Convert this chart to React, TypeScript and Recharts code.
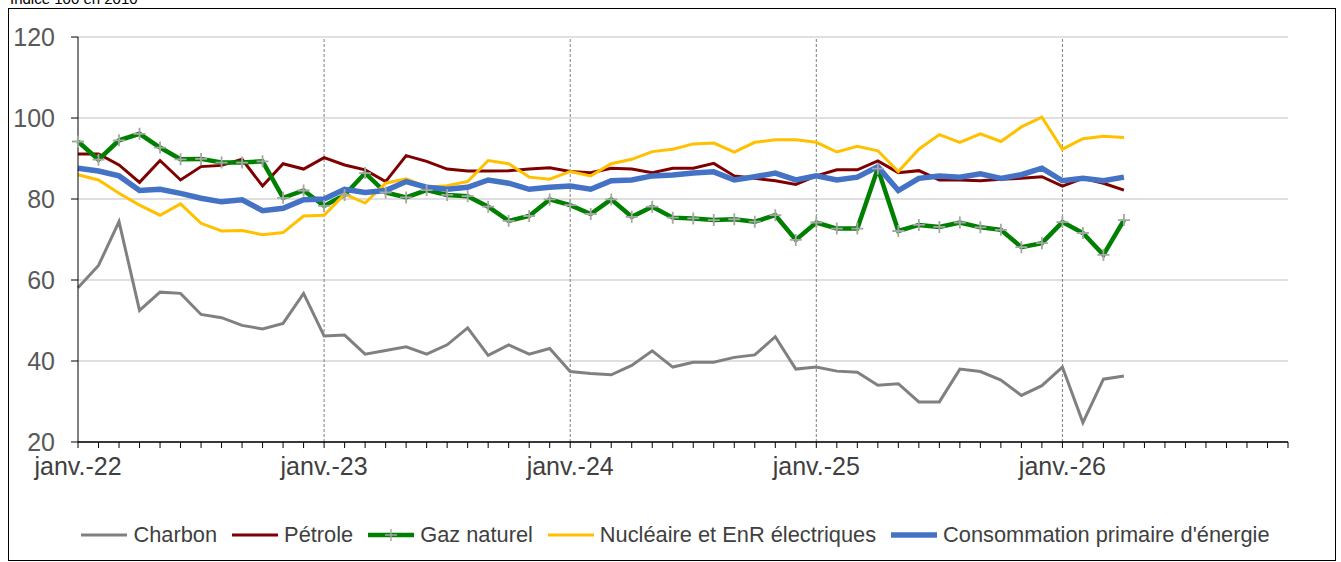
import React from 'react';
import {
  LineChart,
  Line,
  XAxis,
  YAxis,
  CartesianGrid,
  ReferenceLine,
  Legend,
} from 'recharts';

const monthNames = ['janv.', 'févr.', 'mars', 'avr.', 'mai', 'juin', 'juil.', 'août', 'sept.', 'oct.', 'nov.', 'déc.'];
const years = ['22', '23', '24', '25', '26'];
const months = years.flatMap((y) => monthNames.map((m) => `${m}-${y}`));
const yTicks = [20, 40, 60, 80, 100, 120];
const janvTicks = ['janv.-23', 'janv.-24', 'janv.-25', 'janv.-26'];

const charbon = [
  58.1, 63.6, 74.4, 52.5, 57.0, 56.7, 51.5, 50.7, 48.8, 47.9, 49.3, 56.7,
  46.2, 46.4, 41.7, 42.6, 43.5, 41.7, 44.0, 48.2, 41.4, 44.0, 41.7, 43.1,
  37.4, 36.9, 36.6, 38.9, 42.5, 38.5, 39.7, 39.7, 40.9, 41.5, 46.0, 38.0,
  38.5, 37.5, 37.2, 34.0, 34.4, 29.9, 29.9, 38.0, 37.4, 35.3, 31.5, 33.9,
  38.5, 24.8, 35.5, 36.3,
];
const petrole = [
  91.1, 91.1, 88.4, 84.1, 89.5, 84.7, 88.0, 88.3, 89.8, 83.2, 88.7, 87.4,
  90.2, 88.4, 87.2, 84.3, 90.7, 89.3, 87.4, 86.9, 86.9, 87.0, 87.4, 87.7,
  86.8, 86.5, 87.6, 87.4, 86.5, 87.6, 87.6, 88.8, 85.7, 85.1, 84.5, 83.6,
  85.7, 87.2, 87.2, 89.4, 86.5, 87.0, 84.7, 84.7, 84.5, 84.9, 85.1, 85.5,
  83.2, 85.1, 83.9, 82.2,
];
const gaz = [
  94.2, 89.7, 94.5, 96.1, 92.7, 89.8, 89.9, 89.0, 89.0, 89.3, 80.3, 82.1,
  78.3, 81.0, 86.4, 81.6, 80.4, 82.2, 81.0, 80.7, 78.1, 74.6, 75.8, 79.9,
  78.5, 76.3, 79.9, 75.6, 78.1, 75.4, 75.2, 74.8, 75.0, 74.4, 76.0, 69.9,
  74.2, 72.7, 72.7, 87.5, 72.1, 73.6, 73.1, 74.2, 73.0, 72.4, 68.1, 69.1,
  74.3, 71.6, 66.2, 74.8,
];
const nucleaire = [
  86.0, 84.7, 81.4, 78.5, 76.0, 78.8, 74.0, 72.1, 72.2, 71.2, 71.7, 75.8,
  76.0, 81.2, 79.0, 83.9, 85.0, 82.9, 83.3, 84.3, 89.5, 88.7, 85.4, 84.9,
  86.8, 85.7, 88.7, 89.8, 91.7, 92.3, 93.6, 93.8, 91.6, 94.0, 94.6, 94.6,
  94.0, 91.6, 93.0, 91.9, 86.8, 92.3, 95.9, 94.0, 96.1, 94.2, 97.8, 100.2,
  92.3, 94.9, 95.5, 95.2,
];
const consommation = [
  87.6, 86.9, 85.7, 82.1, 82.4, 81.4, 80.2, 79.3, 79.8, 77.1, 77.7, 79.8,
  80.0, 82.4, 81.6, 82.1, 84.3, 82.9, 82.4, 82.9, 84.7, 83.9, 82.4, 82.9,
  83.2, 82.4, 84.5, 84.7, 85.7, 85.9, 86.4, 86.7, 84.7, 85.5, 86.4, 84.7,
  85.7, 84.7, 85.4, 88.0, 82.1, 85.1, 85.7, 85.4, 86.2, 85.1, 86.0, 87.6,
  84.5, 85.1, 84.5, 85.4,
];

const series = [
  { key: 'charbon', name: 'Charbon', color: '#808080', width: 3 },
  { key: 'petrole', name: 'Pétrole', color: '#7f0000', width: 3 },
  { key: 'gaz', name: 'Gaz naturel', color: '#008000', width: 4.5 },
  { key: 'nucleaire', name: 'Nucléaire et EnR électriques', color: '#ffc000', width: 3 },
  { key: 'consommation', name: "Consommation primaire d'énergie", color: '#4472c4', width: 5.5 },
];

const data = months.map((month, i) => ({
  month,
  charbon: charbon[i] ?? null,
  petrole: petrole[i] ?? null,
  gaz: gaz[i] ?? null,
  nucleaire: nucleaire[i] ?? null,
  consommation: consommation[i] ?? null,
}));

const FONT = '"Liberation Sans", Arial, sans-serif';

const MonthTick = (props: any) => {
  const { x, y, payload } = props;
  if (!String(payload.value).startsWith('janv.')) return null;
  return (
    <text x={x} y={y} dy={25} textAnchor="middle" fill="#404040" fontSize={25} fontFamily={FONT}>
      {payload.value}
    </text>
  );
};

const PlusDot = (props: any) => {
  const { cx, cy, index } = props;
  if (cx == null || cy == null || Number.isNaN(cy)) return <g key={index} />;
  return (
    <path
      key={index}
      d={`M${cx - 6},${cy}h12M${cx},${cy - 6}v12`}
      stroke="#a6a6a6"
      strokeWidth={1.8}
      fill="none"
    />
  );
};

const LegendContent = () => (
  <div
    style={{
      display: 'flex',
      justifyContent: 'center',
      alignItems: 'center',
      height: 30,
      fontFamily: FONT,
      fontSize: 21.8,
      color: '#404040',
    }}
  >
    {series.map((s) => (
      <div key={s.key} style={{ display: 'flex', alignItems: 'center', marginRight: 15 }}>
        <svg width={46} height={14} style={{ marginRight: 6 }}>
          <line x1={0} y1={7} x2={46} y2={7} stroke={s.color} strokeWidth={s.width} />
          {s.key === 'gaz' && <path d="M23,1v12M17,7h12" stroke="#a6a6a6" strokeWidth={1.4} />}
        </svg>
        <span>{s.name}</span>
      </div>
    ))}
  </div>
);

export default function App() {
  return (
    <div style={{ position: 'absolute', left: 0, top: 0, width: 1341, height: 562, overflow: 'hidden', background: '#fff' }}>
      <div
        style={{
          position: 'absolute',
          left: 10,
          top: -9,
          fontFamily: FONT,
          fontSize: 15,
          lineHeight: '15px',
          color: '#000',
        }}
      >
        Indice 100 en 2010
      </div>
      <div
        style={{
          position: 'absolute',
          left: 8,
          top: 8,
          width: 1326,
          height: 551,
          border: '1px solid #000',
        }}
      />
      <div style={{ position: 'absolute', left: 0, top: 0 }}>
        <LineChart
          width={1341}
          height={562}
          data={data}
          margin={{ top: 37, right: 53, bottom: 50, left: 8 }}
        >
          <CartesianGrid vertical={false} stroke="#bfbfbf" />
          <XAxis
            dataKey="month"
            interval={0}
            tick={<MonthTick />}
            tickSize={6}
            tickLine={{ stroke: '#000' }}
            axisLine={{ stroke: '#000', strokeWidth: 1.5 }}
            height={40}
          />
          <YAxis
            domain={[20, 120]}
            ticks={yTicks}
            width={70}
            tickSize={7}
            tickMargin={16}
            tick={{ fill: '#595959', fontSize: 25, fontFamily: FONT }}
            tickLine={{ stroke: '#000' }}
            axisLine={{ stroke: '#000' }}
          />
          {janvTicks.map((m) => (
            <ReferenceLine key={m} x={m} stroke="#7f7f7f" strokeDasharray="3 2" />
          ))}
          <Legend
            content={<LegendContent />}
            wrapperStyle={{ top: 520, left: 78, width: 1210, height: 30 }}
          />
          <Line
            dataKey="charbon"
            name="Charbon"
            stroke="#808080"
            strokeWidth={3}
            dot={false}
            isAnimationActive={false}
          />
          <Line
            dataKey="petrole"
            name="Pétrole"
            stroke="#7f0000"
            strokeWidth={3}
            dot={false}
            isAnimationActive={false}
          />
          <Line
            dataKey="gaz"
            name="Gaz naturel"
            stroke="#008000"
            strokeWidth={4.5}
            dot={PlusDot}
            isAnimationActive={false}
          />
          <Line
            dataKey="nucleaire"
            name="Nucléaire et EnR électriques"
            stroke="#ffc000"
            strokeWidth={3}
            dot={false}
            isAnimationActive={false}
          />
          <Line
            dataKey="consommation"
            name="Consommation primaire d'énergie"
            stroke="#4472c4"
            strokeWidth={5.5}
            dot={false}
            isAnimationActive={false}
          />
        </LineChart>
      </div>
    </div>
  );
}
